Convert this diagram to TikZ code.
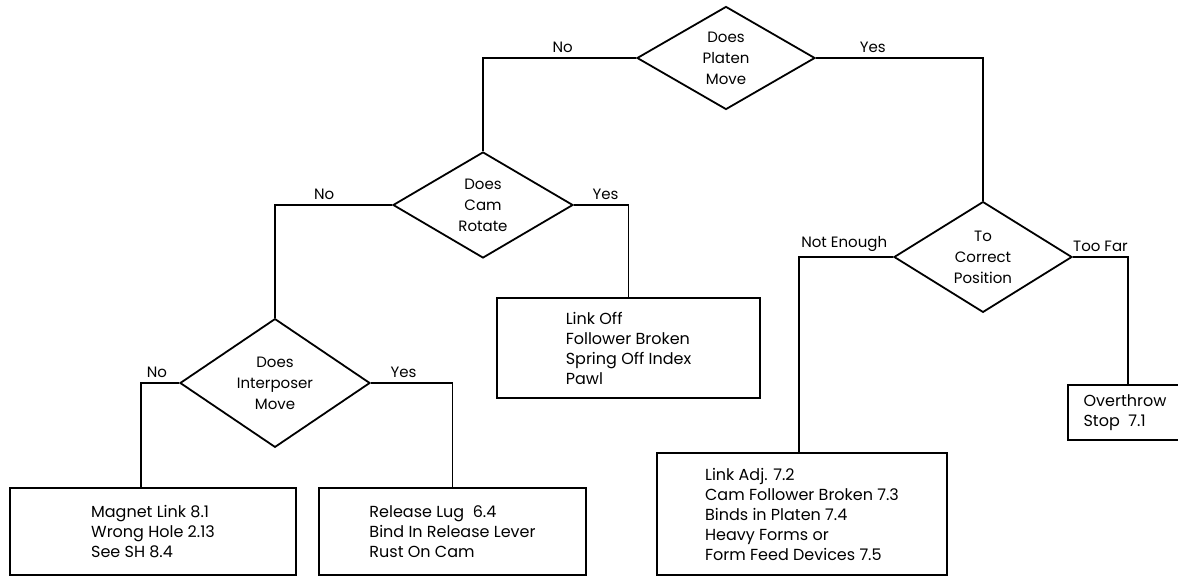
\documentclass[tikz,border=0pt]{standalone}
\usepackage{fontspec}
\setmainfont{Poppins}
\usetikzlibrary{shapes.geometric}

\begin{document}
\begin{tikzpicture}[x=1pt, y=-1pt,
    ask/.style={diamond, draw, line width=1.8pt, inner sep=0pt, align=center,
                font=\fontsize{15}{21}\selectfont},
    box/.style={rectangle, draw, line width=1.8pt, inner sep=0pt, align=left,
                font=\fontsize{16}{20}\selectfont},
    line/.style={line width=1.8pt},
    ans/.style={above=1pt, font=\fontsize{15}{18}\selectfont}]

\useasboundingbox (0,0) rectangle (1178,577);

% Decisions -- diamonds at the measured centres
\node (platen)  [ask, minimum width=178pt, minimum height=103pt] at (726,58)  {Does\\Platen\\Move};
\node (cam)     [ask, minimum width=180pt, minimum height=106pt] at (483,205) {Does\\Cam\\Rotate};
\node (interp)  [ask, minimum width=190pt, minimum height=109pt] at (275,383) {Does\\Interposer\\Move};
\node (correct) [ask, minimum width=178pt, minimum height=102pt] at (983,257) {To\\Correct\\Position};

% Results
\node (magnet)  [box, minimum width=286pt, minimum height=87pt]  at (153,531.5) {Magnet Link 8.1\\Wrong Hole 2.13\\See SH 8.4};
\node (release) [box, minimum width=267pt, minimum height=87pt]  at (452.5,531.5) {Release Lug\ \ 6.4\\Bind In Release Lever\\Rust On Cam};
\node (linkoff) [box, minimum width=263pt, minimum height=100pt] at (628.5,348) {Link Off\\Follower Broken\\Spring Off Index\\Pawl};
\node (fixes)   [box, minimum width=290pt, minimum height=122pt] at (802,514) {Link Adj. 7.2\\Cam Follower Broken 7.3\\Binds in Platen 7.4\\Heavy Forms or\\Form Feed Devices 7.5};
\node (over)    [box, minimum width=114pt, minimum height=55pt]  at (1125,412.5) {Overthrow\\Stop\ \ 7.1};

% Branches -- answer written above the horizontal run
\draw [line] (platen.west)  -| node[ans, pos=0.24]{No}         (cam.north);
\draw [line] (platen.east)  -| node[ans, pos=0.17]{Yes}        (correct.north);
\draw [line] (cam.west)     -| node[ans, pos=0.29]{No}         (interp.north);
\draw [line] (cam.east)     -| node[ans, pos=0.29]{Yes}        (linkoff.north);
\draw [line] (interp.west)  -| node[ans, pos=0.29]{No}         ([xshift=-12pt]magnet.north);
\draw [line] (interp.east)  -| node[ans, pos=0.20]{Yes}        (release.north);
\draw [line] (correct.west) -| node[ans, pos=0.26]{Not Enough} ([xshift=-3pt]fixes.north);
\draw [line] (correct.east) -| node[ans, pos=0.25]{Too Far}    ([xshift=3pt]over.north);

\end{tikzpicture}
\end{document}
